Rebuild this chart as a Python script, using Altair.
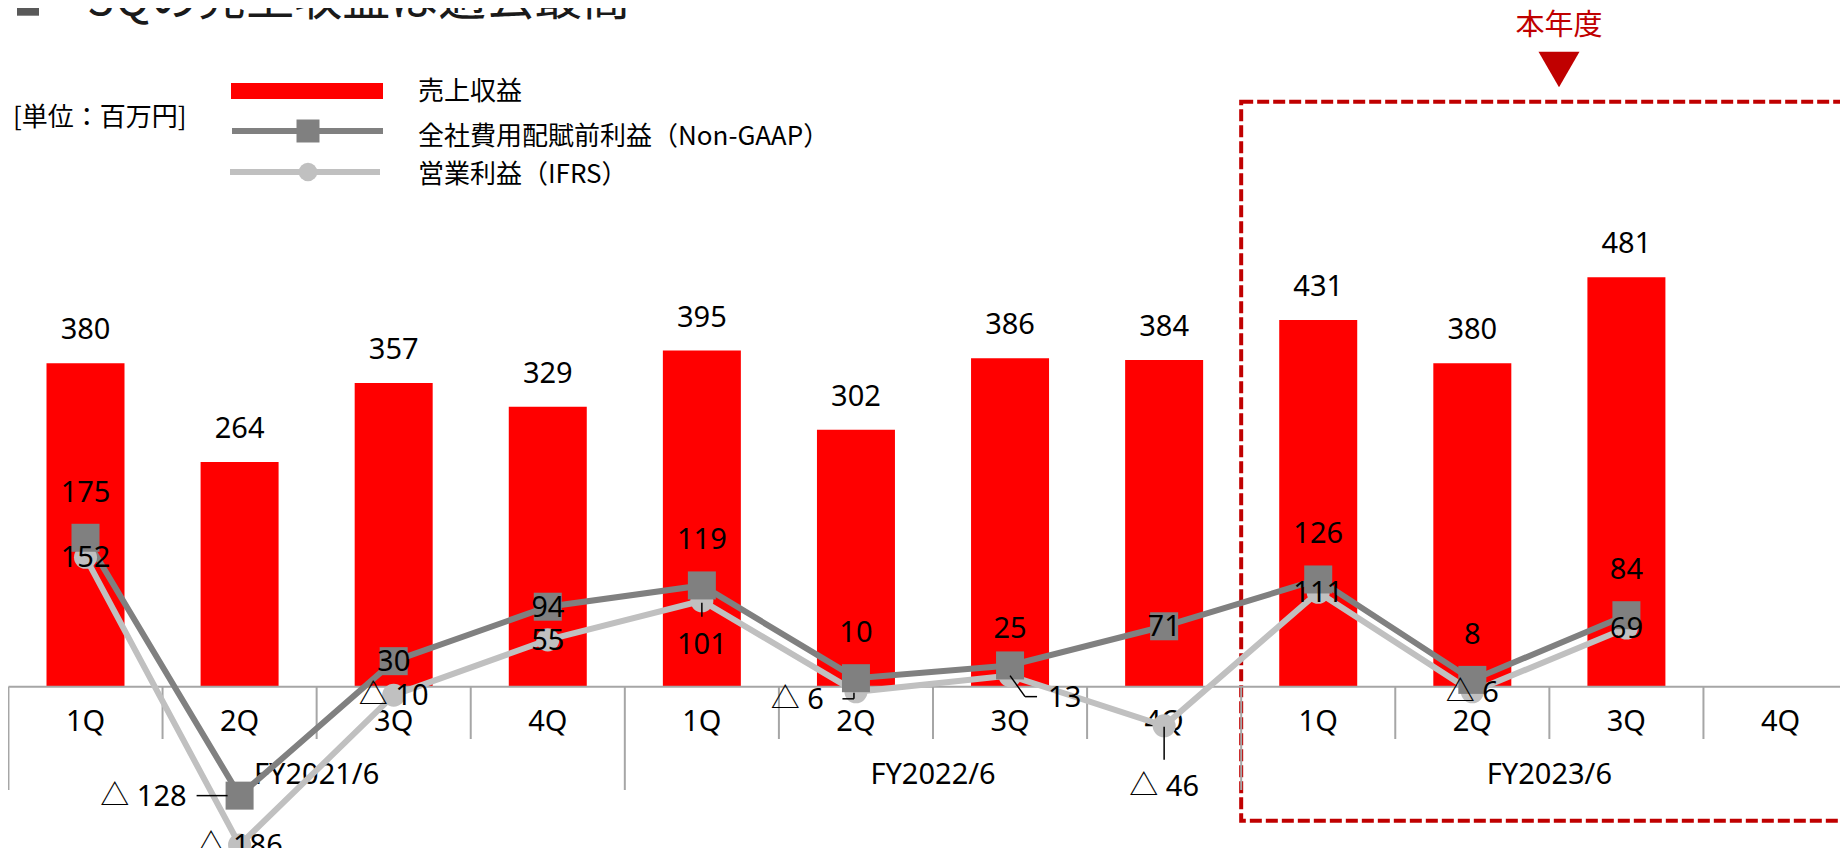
import altair as alt
import pandas as pd

# ---------------- data ----------------
quarters = ["1Q", "2Q", "3Q", "4Q", "1Q", "2Q", "3Q", "4Q", "1Q", "2Q", "3Q", "4Q"]
fiscal_years = ["FY2021/6", "FY2022/6", "FY2023/6"]
revenue = [380, 264, 357, 329, 395, 302, 386, 384, 431, 380, 481]
non_gaap = [175, -128, 30, 94, 119, 10, 25, 71, 126, 8, 84]
ifrs = [152, -186, -10, 55, 101, -6, 13, -46, 111, -6, 69]

series_names = ["売上収益", "全社費用配賦前利益（Non-GAAP）", "営業利益（IFRS）"]
unit_text = "[単位：百万円]"
title_text = "3Qの売上収益は過去最高"
current_text = "本年度"

# label placement (layout only)
ng_place = ["above", "left", "center", "center", "above", "above", "above_near",
            "center", "above", "above", "above"]
ifrs_place = ["center", "center", "center", "center", "below", "left_low",
              "right_low", "below_far", "center", "center", "center"]

# ---------------- styles ----------------
RED = "#FF0000"
DARK_RED = "#C00000"
NG_GRAY = "#808080"
IF_GRAY = "#C0C0C0"
AX_GRAY = "#A6A6A6"
FONT_NUM = "Noto Sans, Noto Sans CJK JP, sans-serif"
FONT_JP = "Noto Sans CJK JP, sans-serif"
FS = 29
W, H = 1832, 840


def fmt(v):
    return f"△ {abs(v)}" if v < 0 else str(v)


n = len(quarters)
rows = []
for i in range(n):
    rows.append({
        "idx": i,
        "quarter": quarters[i],
        "rev": revenue[i] if i < len(revenue) else None,
        "rev_label": str(revenue[i]) if i < len(revenue) else None,
        "ng": non_gaap[i] if i < len(non_gaap) else None,
        "ng_label": fmt(non_gaap[i]) if i < len(non_gaap) else None,
        "ng_place": ng_place[i] if i < len(ng_place) else None,
        "ifrs": ifrs[i] if i < len(ifrs) else None,
        "ifrs_label": fmt(ifrs[i]) if i < len(ifrs) else None,
        "ifrs_place": ifrs_place[i] if i < len(ifrs_place) else None,
    })
df = pd.DataFrame(rows)
df_vals = df[df["rev"].notna()]

fy_df = pd.DataFrame({"fy": fiscal_years, "idx": [4 * k + 1.5 for k in range(len(fiscal_years))]})
short_edges = pd.DataFrame({"e": [i - 0.5 for i in range(1, n) if i % 4 != 0]})
long_edges = pd.DataFrame({"e": [i - 0.5 for i in range(0, n + 1, 4)]})

xs = alt.Scale(domain=[0, 11], range=[72.5, 1777.5], nice=False, zero=False)
ys = alt.Scale(domain=[0, 100], range=[678.7, 593.6], nice=False, zero=False)


def X(f):
    return alt.X(f, type="quantitative", scale=xs, axis=None)


def Y(f):
    return alt.Y(f, type="quantitative", scale=ys, axis=None)


base = alt.Chart(df_vals)
layers = []

# current-year dashed box
layers.append(
    alt.Chart(fy_df).transform_filter(alt.datum.fy == fiscal_years[-1])
    .transform_calculate(e0="datum.idx - 2")
    .mark_rect(fillOpacity=0, stroke=DARK_RED, strokeWidth=4, strokeDash=[12, 4])
    .encode(x=X("e0"), x2=alt.value(1900), y=alt.value(93.7), y2=alt.value(812.7))
)

# bars
layers.append(base.mark_bar(color=RED, width=78).encode(x=X("idx"), y=Y("rev"), y2=alt.datum(0)))
layers.append(base.mark_text(dy=-33, baseline="middle", fontSize=FS, font=FONT_NUM, color="#000")
              .encode(x=X("idx"), y=Y("rev"), text="rev_label:N"))

# category axis
layers.append(alt.Chart(long_edges).transform_calculate(z="0").mark_rule(color=AX_GRAY, strokeWidth=2)
              .encode(x=X("e"), y=Y("z"), y2=alt.value(782)))
layers.append(alt.Chart(short_edges).transform_calculate(z="0").mark_rule(color=AX_GRAY, strokeWidth=2)
              .encode(x=X("e"), y=Y("z"), y2=alt.value(731)))
layers.append(alt.Chart(long_edges.head(1)).transform_calculate(z="0").mark_rule(color=AX_GRAY, strokeWidth=2)
              .encode(x=X("e"), x2=alt.value(W + 20), y=Y("z")))
layers.append(alt.Chart(df).mark_text(baseline="middle", fontSize=FS, font=FONT_NUM, color="#000")
              .encode(x=X("idx"), y=alt.value(714), text="quarter:N"))
layers.append(alt.Chart(fy_df).mark_text(baseline="middle", fontSize=FS, font=FONT_NUM, color="#000")
              .encode(x=X("idx"), y=alt.value(767), text="fy:N"))

# lines
layers.append(base.mark_line(color=IF_GRAY, strokeWidth=6).encode(x=X("idx"), y=Y("ifrs")))
layers.append(base.mark_line(color=NG_GRAY, strokeWidth=6).encode(x=X("idx"), y=Y("ng")))
layers.append(base.mark_point(shape="circle", filled=True, size=531, color=IF_GRAY, opacity=1)
              .encode(x=X("idx"), y=Y("ifrs")))
layers.append(base.mark_point(shape="square", filled=True, size=784, color=NG_GRAY, opacity=1)
              .encode(x=X("idx"), y=Y("ng")))

# value labels
ng_rules = {"above": dict(dy=-45), "above_near": dict(dy=-36), "center": dict(dy=1),
            "left": dict(dx=-53, dy=1, align="right")}
if_rules = {"center": dict(dy=1), "below": dict(dy=44),
            "left_low": dict(dx=-32, dy=8, align="right"),
            "right_low": dict(dx=38, dy=22, align="left"), "below_far": dict(dy=61)}


def label_layers(field, label, place_field, rules):
    out = []
    for p, kw in rules.items():
        kw = dict(kw)
        align = kw.pop("align", "center")
        out.append(base.transform_filter(alt.datum[place_field] == p).mark_text(
            align=align, baseline="middle", fontSize=FS, font=FONT_NUM, color="#000", **kw
        ).encode(x=X("idx"), y=Y(field), text=f"{label}:N"))
    return out


# leader lines (layout)
leaders = [
    ("ng", "left", (-43, -12, 0, 0)),
    ("ifrs", "below", (0, 0, 2, 16)),
    ("ifrs", "left_low", (-13.5, -2, 7, 7)),
    ("ifrs", "left_low", (-2, -2, 1, 7)),
    ("ifrs", "right_low", (0, 15, 0, 21)),
    ("ifrs", "right_low", (15, 27, 21, 21)),
    ("ifrs", "below_far", (0, 0, 1, 34)),
]
for field, p, (x0, x1, y0, y1) in leaders:
    layers.append(base.transform_filter(alt.datum[f"{field}_place"] == p).mark_rule(
        color="#000", strokeWidth=1.5, xOffset=x0, x2Offset=x1, yOffset=y0, y2Offset=y1
    ).encode(x=X("idx"), x2="idx:Q", y=Y(field), y2=f"{field}:Q"))

layers += label_layers("ifrs", "ifrs_label", "ifrs_place", if_rules)
layers += label_layers("ng", "ng_label", "ng_place", ng_rules)

# legend
leg = alt.Chart(pd.DataFrame({"a": [0]}))
layers.append(leg.mark_rect(color=RED).encode(x=alt.value(223), x2=alt.value(375), y=alt.value(75), y2=alt.value(91)))
layers.append(leg.mark_rule(color=NG_GRAY, strokeWidth=6).encode(x=alt.value(224), x2=alt.value(375), y=alt.value(123)))
layers.append(leg.mark_point(shape="square", filled=True, size=529, color=NG_GRAY, opacity=1)
              .encode(x=alt.value(300), y=alt.value(123)))
layers.append(leg.mark_rule(color=IF_GRAY, strokeWidth=6).encode(x=alt.value(222), x2=alt.value(372), y=alt.value(164)))
layers.append(leg.mark_point(shape="circle", filled=True, size=346, color=IF_GRAY, opacity=1)
              .encode(x=alt.value(300), y=alt.value(164)))
for txt, yy in zip(series_names, [84, 129, 167]):
    layers.append(leg.mark_text(align="left", baseline="middle", fontSize=26, font=FONT_JP, color="#000", text=txt)
                  .encode(x=alt.value(410), y=alt.value(yy)))
layers.append(leg.mark_text(align="left", baseline="middle", fontSize=26, font=FONT_JP, color="#000", text=unit_text)
              .encode(x=alt.value(5), y=alt.value(110)))

# title
layers.append(leg.mark_point(shape="square", filled=True, size=484, color="#595959", opacity=1)
              .encode(x=alt.value(20), y=alt.value(-3.3)))
layers.append(leg.mark_text(align="left", baseline="alphabetic", fontSize=48, font=FONT_JP, color="#1a1a1a", text=title_text)
              .encode(x=alt.value(80), y=alt.value(7)))

# current-year marker
layers.append(leg.mark_text(align="center", baseline="middle", fontSize=29, font=FONT_JP, color=DARK_RED, text=current_text)
              .encode(x=alt.value(1551), y=alt.value(18)))
layers.append(leg.mark_point(shape="triangle-down", filled=True, size=1681, color=DARK_RED, opacity=1)
              .encode(x=alt.value(1551), y=alt.value(61.5)))

chart = alt.layer(*layers).properties(
    width=W, height=H, autosize=alt.AutoSizeParams(type="none"), padding=0, background="white"
).configure_view(strokeWidth=0, strokeOpacity=0)

chart.save("out.html", embed_options={"renderer": "svg", "actions": False})
